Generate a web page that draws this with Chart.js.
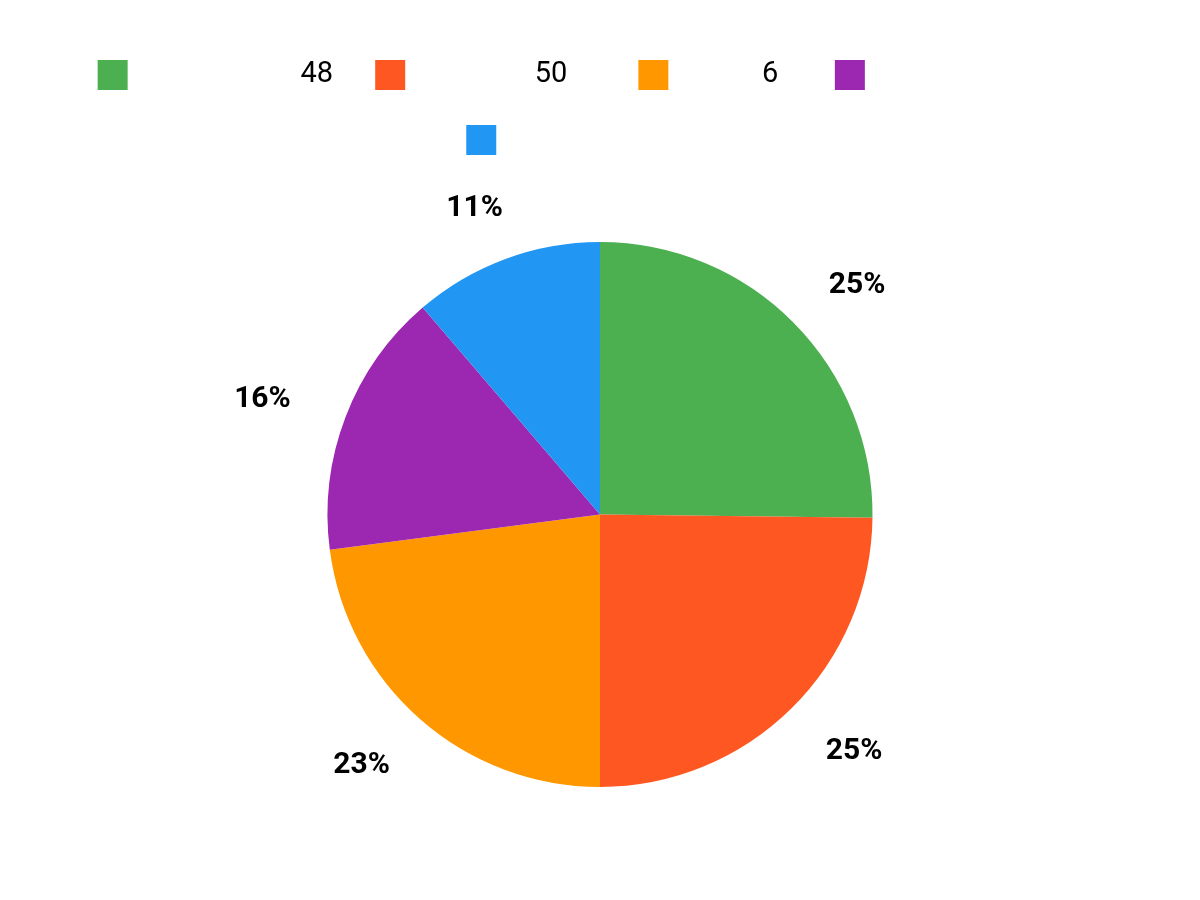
<!DOCTYPE html>
<html>
<head>
<meta charset="utf-8">
<script src="https://cdn.jsdelivr.net/npm/chart.js@4.4.1/dist/chart.umd.min.js"></script>
<style>
  html, body { margin: 0; padding: 0; background: #fff; }
  #wrap { width: 1200px; height: 900px; }
</style>
</head>
<body>
<div id="wrap"><canvas id="myChart" width="1200" height="900"></canvas></div>
<script>
// legend labels (the names are blank in the picture, only the numbers show)
const labels = [
    '                      48 ',
    '                50     ',
    '           6   ',
    '                               ',
    '                               '
];
const values = [67, 66, 61, 42, 30];
const colors = ['#4CAF50', '#FF5722', '#FF9800', '#9C27B0', '#2196F3'];

// percent labels outside each slice
const pctLabels = {
    id: 'pctLabels',
    afterDatasetsDraw(chart) {
        const ctx = chart.ctx;
        const meta = chart.getDatasetMeta(0);
        const total = values.reduce((a, b) => a + b, 0);
        ctx.save();
        ctx.font = 'bold 30px Roboto';
        ctx.fillStyle = '#000';
        ctx.textAlign = 'center';
        ctx.textBaseline = 'middle';
        meta.data.forEach((arc, i) => {
            const p = arc.getProps(['x', 'y', 'startAngle', 'endAngle', 'outerRadius'], true);
            const mid = (p.startAngle + p.endAngle) / 2;
            const txt = Math.round(values[i] / total * 100) + '%';
            // labels sit a bit wider left/right than above/below
            const rx = p.outerRadius + 89;
            const ry = p.outerRadius + 57;
            ctx.fillText(txt, p.x + Math.cos(mid) * rx, p.y + Math.sin(mid) * ry + 3);
        });
        ctx.restore();
    }
};

const ctx = document.getElementById('myChart').getContext('2d');
const myChart = new Chart(ctx, {
    type: 'pie',
    data: {
        labels: labels,
        datasets: [{
            data: values,
            backgroundColor: colors,
            borderWidth: 0,
            radius: 272.5
        }]
    },
    options: {
        responsive: false,
        animation: false,
        layout: { padding: { top: 25, bottom: 36 } },
        plugins: {
            legend: {
                position: 'top',
                labels: {
                    font: { family: 'Roboto', size: 29 },
                    color: '#000',
                    boxWidth: 30,
                    boxHeight: 30,
                    padding: 35
                }
            },
            tooltip: { enabled: false }
        }
    },
    plugins: [pctLabels]
});
</script>
</body>
</html>
